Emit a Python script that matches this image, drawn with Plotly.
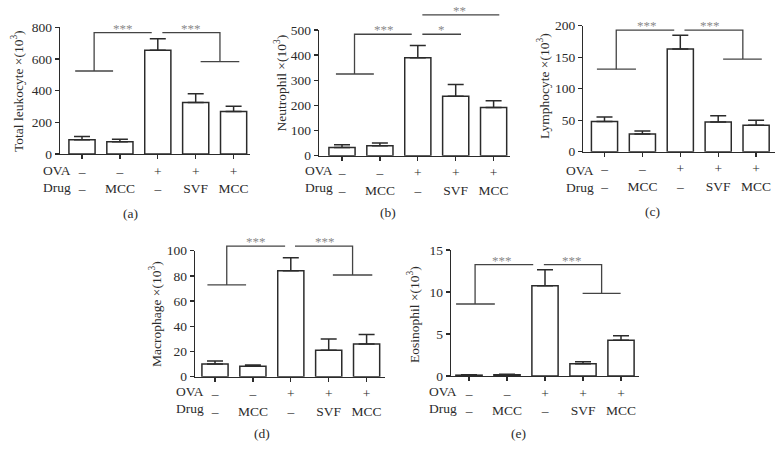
import plotly.graph_objects as go

# ---------------- data ----------------
x_pos = [0, 1, 2, 3, 4]
ova_row = ["–", "–", "+", "+", "+"]
drug_row = ["–", "MCC", "–", "SVF", "MCC"]

leukocyte = [90, 78, 655, 325, 268]
leukocyte_err = [20, 15, 72, 55, 34]
neutrophil = [33, 40, 390, 236, 192]
neutrophil_err = [11, 11, 48, 47, 27]
lymphocyte = [48, 28, 163, 47, 42]
lymphocyte_err = [7, 5, 22, 10, 8]
macrophage = [10, 8.2, 84, 21, 26]
macrophage_err = [2.5, 1, 10.5, 9, 7.5]
eosinophil = [0.1, 0.15, 10.75, 1.45, 4.25]
eosinophil_err = [0.05, 0.05, 1.9, 0.25, 0.55]

y_titles = ["Total leukocyte ×(10<sup>3</sup>)", "Neutrophil ×(10<sup>3</sup>)",
            "Lymphocyte ×(10<sup>3</sup>)", "Macrophage ×(10<sup>3</sup>)",
            "Eosinophil ×(10<sup>3</sup>)"]
panel_letters = ["(a)", "(b)", "(c)", "(d)", "(e)"]
y_ticks = [[0, 200, 400, 600, 800], [0, 100, 200, 300, 400, 500],
           [0, 50, 100, 150, 200], [0, 20, 40, 60, 80, 100], [0, 5, 10, 15]]

# significance brackets: polylines in (category, value), and star labels
brackets = [
    [[(-0.18, 524), (0.82, 524)], [(0.32, 524), (0.32, 766), (1.84, 766)],
     [(2.12, 766), (3.64, 766), (3.64, 583)], [(3.13, 583), (4.15, 583)]],
    [[(-0.16, 325), (0.84, 325)], [(0.33, 325), (0.33, 483), (1.84, 483)],
     [(2.12, 483), (3.14, 483)], [(2.12, 560), (4.15, 560)]],
    [[(-0.2, 131), (0.83, 131)], [(0.31, 131), (0.31, 193), (1.84, 193)],
     [(2.11, 193), (3.65, 193), (3.65, 147)], [(3.13, 147), (4.15, 147)]],
    [[(-0.2, 72.8), (0.82, 72.8)], [(0.31, 72.8), (0.31, 103.7), (1.85, 103.7)],
     [(2.11, 103.7), (3.63, 103.7), (3.63, 80.7)], [(3.11, 80.7), (4.15, 80.7)]],
    [[(-0.34, 8.57), (0.68, 8.57)], [(0.16, 8.57), (0.16, 13.25), (1.69, 13.25)],
     [(1.97, 13.25), (3.49, 13.25), (3.49, 9.84)], [(2.99, 9.84), (3.99, 9.84)]],
]
stars = [
    [("***", 1.08, 766), ("***", 2.88, 766)],
    [("***", 1.12, 483), ("*", 2.63, 483), ("**", 3.11, 560)],
    [("***", 1.11, 193), ("***", 2.78, 193)],
    [("***", 1.08, 103.7), ("***", 2.90, 103.7)],
    [("***", 0.86, 13.25), ("***", 2.70, 13.25)],
]

series = [(leukocyte, leukocyte_err), (neutrophil, neutrophil_err),
          (lymphocyte, lymphocyte_err), (macrophage, macrophage_err),
          (eosinophil, eosinophil_err)]

# ---------------- layout geometry (pixels) ----------------
W, H = 784, 460
# axis left, axis right, axis top(px), axis bottom(px), first bar center, spacing
geom = [
    (60, 250, 27.3, 154.0, 82.0, 37.9),
    (319, 510, 30.0, 155.7, 342.0, 37.9),
    (583.3, 775, 25.7, 151.7, 604.5, 37.9),
    (195, 385, 250.7, 376.7, 215.0, 37.9),
    (451, 639, 250.0, 376.0, 469.0, 38.0),
]
ova_label_pos = [(41, 171, 187), (302.7, 171, 187), (564.3, 170.5, 187.5),
                 (174.3, 391.7, 408), (427.3, 391.7, 408)]
ytitle_pos = [(18, 91), (281.5, 83), (543, 86), (155, 314), (413, 315)]
letter_pos = [(130, 213), (388, 212), (652, 211), (262, 433), (518, 433)]

FONT = "Liberation Serif"
INK = "#2b2b2b"
LINE = "#444444"
FS = 13.5

fig = go.Figure()
layout = dict(width=W, height=H, margin=dict(l=0, r=0, t=0, b=0, pad=0, autoexpand=False),
              paper_bgcolor="white", plot_bgcolor="white", showlegend=False,
              font=dict(family=FONT, size=FS, color=INK))
shapes, annotations = [], []

def px(x):
    return x / W

def py(y):
    return 1 - y / H

ticktext = [f"{o}<br>{d}" for o, d in zip(ova_row, drug_row)]

for i, ((vals, errs), (xl, xr, yt, yb, c0, sp)) in enumerate(zip(series, geom)):
    n = "" if i == 0 else str(i + 1)
    xa, ya = "x" + n, "y" + n
    ymax = y_ticks[i][-1]
    xr0, xr1 = (xl - c0) / sp, (xr - c0) / sp
    fig.add_trace(go.Bar(
        x=x_pos, y=vals, xaxis=xa, yaxis=ya, width=0.69,
        marker=dict(color="white", line=dict(color=INK, width=1.5)),
        error_y=dict(type="data", symmetric=False, array=errs,
                     arrayminus=[0] * len(errs), color=INK, thickness=1.5, width=8),
    ))
    layout["xaxis" + n] = dict(
        domain=[px(xl), px(xr)], range=[xr0, xr1], anchor=ya, automargin=False,
        showline=True, linecolor=INK, linewidth=1.3, ticks="outside", ticklen=4,
        tickwidth=1.3, tickcolor=INK, tickvals=x_pos, ticktext=ticktext,
        showgrid=False, zeroline=False, fixedrange=True,
        tickfont=dict(family=FONT, size=FS, color=INK),
    )
    layout["yaxis" + n] = dict(
        domain=[py(yb), py(yt)], range=[0, ymax], anchor=xa, automargin=False,
        showline=True, linecolor=INK, linewidth=1.3, ticks="outside", ticklen=4,
        tickwidth=1.3, tickcolor=INK, tickvals=y_ticks[i],
        showgrid=False, zeroline=False, fixedrange=True,
        tickfont=dict(family=FONT, size=FS, color=INK),
    )
    # brackets
    for poly in brackets[i]:
        pts = [((cx - xr0) / (xr1 - xr0), v / ymax) for cx, v in poly]
        path = "M " + " L ".join(f"{a:.5f},{b:.5f}" for a, b in pts)
        shapes.append(dict(type="path", path=path, xref=xa + " domain",
                           yref=ya + " domain", line=dict(color=LINE, width=1.3)))
    for txt, cx, v in stars[i]:
        annotations.append(dict(text=txt, x=(cx - xr0) / (xr1 - xr0), y=v / ymax,
                                xref=xa + " domain", yref=ya + " domain",
                                xanchor="center", yanchor="bottom", yshift=-5,
                                showarrow=False,
                                font=dict(family=FONT, size=13, color="#8a8a8a")))
    # OVA / Drug row labels
    ox, oy, dy = ova_label_pos[i]
    for lab, yy in (("OVA", oy), ("Drug", dy)):
        annotations.append(dict(text=lab, x=px(ox), y=py(yy), xref="paper", yref="paper",
                                xanchor="left", yanchor="middle", showarrow=False,
                                font=dict(family=FONT, size=FS, color=INK)))
    tx, ty = ytitle_pos[i]
    annotations.append(dict(text=y_titles[i], x=px(tx), y=py(ty), xref="paper",
                            yref="paper", xanchor="center", yanchor="middle",
                            textangle=-90, showarrow=False,
                            font=dict(family=FONT, size=FS, color=INK)))
    lx, ly = letter_pos[i]
    annotations.append(dict(text=panel_letters[i], x=px(lx), y=py(ly), xref="paper",
                            yref="paper", xanchor="center", yanchor="middle",
                            showarrow=False, font=dict(family=FONT, size=FS, color=INK)))

layout["shapes"] = shapes
layout["annotations"] = annotations
fig.update_layout(**layout)
fig.write_html("out.html", config={"displayModeBar": False, "staticPlot": True},
               post_script="document.body.style.margin='0';document.body.style.overflow='hidden';")
